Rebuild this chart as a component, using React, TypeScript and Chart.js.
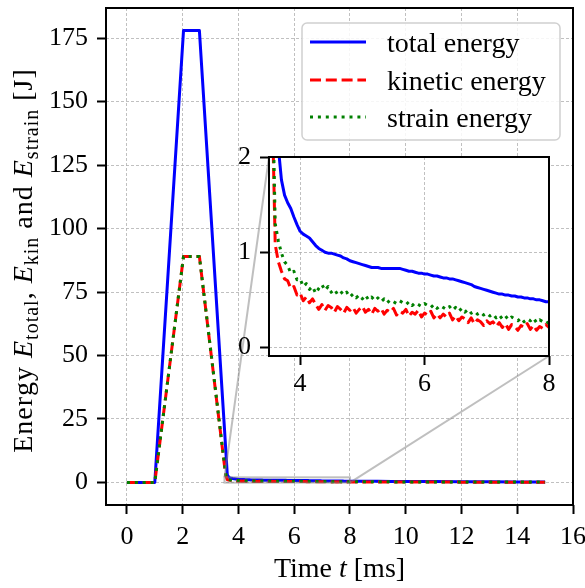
import React, { useEffect, useRef } from 'react';
import { Chart, registerables } from 'chart.js';

Chart.register(...registerables);

// ---------------- data ----------------
const TIME = [0, 1.0, 2.03, 2.6, 3.5, 3.55,
  3.6, 3.65, 3.7, 3.75, 3.8, 3.85, 3.9, 3.95, 4.0, 4.05, 4.1, 4.15, 4.2, 4.25, 4.3, 4.35, 4.4, 4.45, 4.5, 4.55,
  4.6, 4.65, 4.7, 4.75, 4.8, 4.85, 4.9, 4.95, 5.0, 5.05, 5.1, 5.15, 5.2, 5.25, 5.3, 5.35, 5.4, 5.45, 5.5, 5.55,
  5.6, 5.65, 5.7, 5.75, 5.8, 5.85, 5.9, 5.95, 6.0, 6.05, 6.1, 6.15, 6.2, 6.25, 6.3, 6.35, 6.4, 6.45, 6.5, 6.55,
  6.6, 6.65, 6.7, 6.75, 6.8, 6.85, 6.9, 6.95, 7.0, 7.05, 7.1, 7.15, 7.2, 7.25, 7.3, 7.35, 7.4, 7.45, 7.5, 7.55,
  7.6, 7.65, 7.7, 7.75, 7.8, 7.85, 7.9, 7.95, 8.0,
  8.5, 9, 9.5, 10, 11, 12, 13, 14, 15];

const TOTAL = [0, 0, 178, 178, 21, 12,
  3.0, 2.1, 1.76, 1.6, 1.52, 1.46, 1.37, 1.29, 1.22, 1.19, 1.17, 1.15, 1.11, 1.07, 1.04, 1.02, 1.0, 0.99, 0.99, 0.98,
  0.97, 0.96, 0.94, 0.93, 0.91, 0.9, 0.89, 0.88, 0.87, 0.86, 0.85, 0.84, 0.84, 0.84, 0.83, 0.83, 0.83, 0.83, 0.83, 0.83,
  0.83, 0.82, 0.81, 0.8, 0.8, 0.79, 0.78, 0.78, 0.77, 0.77, 0.76, 0.75, 0.75, 0.74, 0.73, 0.73, 0.72, 0.72, 0.71, 0.7,
  0.69, 0.68, 0.67, 0.66, 0.64, 0.63, 0.62, 0.61, 0.6, 0.59, 0.58, 0.57, 0.56, 0.56, 0.55, 0.55, 0.54, 0.54, 0.53, 0.53,
  0.52, 0.52, 0.51, 0.51, 0.5, 0.5, 0.49, 0.48, 0.48,
  0.45, 0.42, 0.39, 0.36, 0.31, 0.27, 0.24, 0.21, 0.19];

const KINETIC = [0, 0, 89, 89, 6.5, 2.6,
  1.08, 0.9, 0.8, 0.72, 0.7, 0.62, 0.64, 0.55, 0.57, 0.49, 0.53, 0.47, 0.51, 0.45, 0.4, 0.45, 0.39, 0.44, 0.42, 0.37,
  0.43, 0.4, 0.36, 0.42, 0.39, 0.42, 0.36, 0.4, 0.43, 0.37, 0.4, 0.35, 0.41, 0.38, 0.41, 0.35, 0.39, 0.37, 0.41, 0.34,
  0.38, 0.36, 0.4, 0.33, 0.37, 0.35, 0.39, 0.32, 0.36, 0.34, 0.38, 0.31, 0.35, 0.31, 0.35, 0.32, 0.36, 0.29, 0.33, 0.28,
  0.32, 0.3, 0.26, 0.31, 0.25, 0.29, 0.27, 0.23, 0.28, 0.25, 0.27, 0.22, 0.26, 0.21, 0.25, 0.19, 0.24, 0.22, 0.18, 0.23,
  0.21, 0.25, 0.19, 0.23, 0.18, 0.22, 0.2, 0.24, 0.21,
  0.19, 0.18, 0.17, 0.15, 0.13, 0.11, 0.1, 0.09, 0.08];

const STRAIN = [0, 0, 89, 89, 7, 2.9,
  1.3, 1.12, 0.99, 0.9, 0.86, 0.78, 0.8, 0.71, 0.72, 0.64, 0.67, 0.61, 0.64, 0.57, 0.62, 0.66, 0.6, 0.64, 0.58, 0.61,
  0.56, 0.59, 0.55, 0.58, 0.53, 0.56, 0.52, 0.55, 0.51, 0.55, 0.5, 0.53, 0.49, 0.52, 0.48, 0.51, 0.47, 0.5, 0.48, 0.46,
  0.49, 0.47, 0.45, 0.48, 0.44, 0.47, 0.45, 0.43, 0.46, 0.44, 0.42, 0.45, 0.41, 0.44, 0.42, 0.4, 0.43, 0.39, 0.42, 0.38,
  0.41, 0.37, 0.4, 0.36, 0.38, 0.35, 0.37, 0.34, 0.36, 0.33, 0.35, 0.31, 0.34, 0.3, 0.33, 0.29, 0.32, 0.3, 0.28, 0.31,
  0.27, 0.3, 0.28, 0.31, 0.26, 0.29, 0.27, 0.25, 0.27,
  0.25, 0.23, 0.21, 0.2, 0.17, 0.15, 0.13, 0.12, 0.11];

const SERIES_LABELS = ['total energy', 'kinetic energy', 'strain energy'];
const X_TICKS = [0, 2, 4, 6, 8, 10, 12, 14, 16];
const Y_TICKS = [0, 25, 50, 75, 100, 125, 150, 175];
const INSET_X_TICKS = [4, 6, 8];
const INSET_Y_TICKS = [0, 1, 2];
const MAIN_X_RANGE = [-0.75, 16];
const MAIN_Y_RANGE = [-8.9, 186.9];
const ZOOM_X_RANGE = [3.5, 8];
const ZOOM_Y_RANGE = [-0.09, 2];

// ---------------- style / layout ----------------
const W = 585;
const H = 588;
const FONT = '"Liberation Serif", "Times New Roman", serif';
const TICK_SIZE = 26;
const LABEL_SIZE = 28;
const MAIN_AREA = { left: 106, top: 8, right: 573, bottom: 505 };
const INSET_CANVAS = { x: 200, y: 120, w: 370, h: 290 };
const INSET_AREA = { left: 269, top: 157, right: 549, bottom: 356 };
const COLORS = ['#0000ff', '#ff0000', '#008000'];
const LW = 3;
const DASHES = [[], [11, 4.8], [3, 4.9]];
const GRID = '#b0b0b0';

type Seg = { t: string; it?: boolean; sub?: boolean };

function drawRich(ctx: CanvasRenderingContext2D, segs: Seg[], cx: number, baseY: number, size: number, spacing = 0) {
  const fontFor = (s: Seg) => `${s.it ? 'italic ' : ''}${s.sub ? Math.round(size * 0.72) : size}px ${FONT}`;
  const pieces: { ch: string; font: string; w: number; sub: boolean }[] = [];
  segs.forEach((s) => {
    const f = fontFor(s);
    ctx.font = f;
    if (spacing === 0) {
      pieces.push({ ch: s.t, font: f, w: ctx.measureText(s.t).width, sub: !!s.sub });
    } else {
      for (const ch of s.t) {
        pieces.push({ ch, font: f, w: ctx.measureText(ch).width + spacing, sub: !!s.sub });
      }
    }
  });
  const total = pieces.reduce((acc, p) => acc + p.w, 0);
  let x = cx - total / 2;
  ctx.textAlign = 'left';
  ctx.textBaseline = 'alphabetic';
  ctx.fillStyle = '#000';
  pieces.forEach((p) => {
    ctx.font = p.font;
    ctx.fillText(p.ch, x, baseY + (p.sub ? size * 0.2 : 0));
    x += p.w;
  });
}

function makeDatasets() {
  const series = [TOTAL, KINETIC, STRAIN];
  return series.map((vals, i) => ({
    label: SERIES_LABELS[i],
    data: TIME.map((t, k) => ({ x: t, y: vals[k] })),
    borderColor: COLORS[i],
    backgroundColor: COLORS[i],
    borderWidth: LW,
    borderDash: DASHES[i],
    borderCapStyle: 'butt' as const,
    borderJoinStyle: 'round' as const,
    pointRadius: 0,
    tension: 0,
    fill: false,
    order: 3 - i,
  }));
}

function axisCommon(size: number, padding: number) {
  return {
    grid: {
      color: GRID,
      lineWidth: 0.8,
      drawTicks: true,
      tickLength: 9,
      tickWidth: 2,
      tickColor: '#000',
    },
    border: { display: false, dash: [3, 2] },
    ticks: {
      font: { family: FONT, size },
      color: '#000',
      padding,
      autoSkip: false,
      maxRotation: 0,
      minRotation: 0,
      callback: (v: any) => String(v),
    },
  };
}

function fixedAxis(range: number[], ticks: number[], size: number, padding: number, fit: (s: any) => void) {
  return {
    type: 'linear',
    min: range[0],
    max: range[1],
    ...axisCommon(size, padding),
    afterBuildTicks: (s: any) => { s.ticks = ticks.map((v) => ({ value: v })); },
    afterFit: (s: any) => {
      fit(s);
      s.paddingLeft = 0; s.paddingRight = 0; s.paddingTop = 0; s.paddingBottom = 0;
    },
  };
}

export default function App() {
  const mainRef = useRef<HTMLCanvasElement>(null);
  const insetRef = useRef<HTMLCanvasElement>(null);

  useEffect(() => {
    const mainDecor = {
      id: 'mainDecor',
      afterDatasetsDraw(chart: any) {
        const ctx = chart.ctx as CanvasRenderingContext2D;
        const xs = chart.scales.x;
        const ys = chart.scales.y;
        const a = chart.chartArea;
        // indicator rectangle + connectors
        const rx0 = xs.getPixelForValue(ZOOM_X_RANGE[0]);
        const rx1 = xs.getPixelForValue(ZOOM_X_RANGE[1]);
        const ry0 = ys.getPixelForValue(ZOOM_Y_RANGE[0]);
        const ry1 = ys.getPixelForValue(ZOOM_Y_RANGE[1]);
        ctx.save();
        ctx.strokeStyle = 'rgba(128,128,128,0.5)';
        ctx.lineWidth = 2;
        ctx.strokeRect(rx0, ry1, rx1 - rx0, ry0 - ry1);
        ctx.beginPath();
        ctx.moveTo(rx0, ry1);
        ctx.lineTo(INSET_AREA.left, INSET_AREA.top);
        ctx.moveTo(rx1, ry0);
        ctx.lineTo(INSET_AREA.right, INSET_AREA.bottom);
        ctx.stroke();
        ctx.restore();

        // legend
        ctx.save();
        const bx = 302, by = 23, bw = 258, bh = 117, r = 5;
        ctx.beginPath();
        ctx.moveTo(bx + r, by);
        ctx.arcTo(bx + bw, by, bx + bw, by + bh, r);
        ctx.arcTo(bx + bw, by + bh, bx, by + bh, r);
        ctx.arcTo(bx, by + bh, bx, by, r);
        ctx.arcTo(bx, by, bx + bw, by, r);
        ctx.closePath();
        ctx.fillStyle = 'rgba(255,255,255,0.85)';
        ctx.fill();
        ctx.strokeStyle = '#d0d0d0';
        ctx.lineWidth = 1.5;
        ctx.stroke();
        const rows = [42, 80, 117];
        SERIES_LABELS.forEach((lab, i) => {
          ctx.beginPath();
          ctx.setLineDash(DASHES[i]);
          ctx.lineCap = 'butt';
          ctx.strokeStyle = COLORS[i];
          ctx.lineWidth = LW;
          ctx.moveTo(310, rows[i]);
          ctx.lineTo(366, rows[i]);
          ctx.stroke();
          ctx.setLineDash([]);
          ctx.font = `${LABEL_SIZE}px ${FONT}`;
          ctx.fillStyle = '#000';
          ctx.textAlign = 'left';
          ctx.textBaseline = 'alphabetic';
          ctx.fillText(lab, 387, rows[i] + 10);
        });
        ctx.restore();

        // frame
        ctx.save();
        ctx.strokeStyle = '#000';
        ctx.lineWidth = 2;
        ctx.strokeRect(a.left, a.top, a.right - a.left, a.bottom - a.top);
        ctx.restore();

        // axis titles
        ctx.save();
        drawRich(ctx, [{ t: 'Time ' }, { t: 't', it: true }, { t: ' [ms]' }], (a.left + a.right) / 2, 577, LABEL_SIZE);
        ctx.restore();
        ctx.save();
        ctx.translate(32, (a.top + a.bottom) / 2 + 4);
        ctx.rotate(-Math.PI / 2);
        drawRich(ctx, [
          { t: 'Energy ' }, { t: 'E', it: true }, { t: 'total', sub: true }, { t: ', ' },
          { t: 'E', it: true }, { t: 'kin', sub: true }, { t: ' and ' },
          { t: 'E', it: true }, { t: 'strain', sub: true }, { t: ' [J]' },
        ], 0, 0, LABEL_SIZE, 1);
        ctx.restore();
      },
    };

    const xMain = fixedAxis(MAIN_X_RANGE, X_TICKS, TICK_SIZE, 8, (s) => { s.height = H - MAIN_AREA.bottom; });
    const yMain = fixedAxis(MAIN_Y_RANGE, Y_TICKS, TICK_SIZE, 9, (s) => { s.width = MAIN_AREA.left; });

    const main = new Chart(mainRef.current!, {
      type: 'line',
      data: { datasets: makeDatasets() as any },
      options: {
        responsive: false,
        animation: false,
        devicePixelRatio: 1,
        layout: { padding: { left: 0, top: MAIN_AREA.top, right: W - MAIN_AREA.right, bottom: 0 } },
        plugins: { legend: { display: false }, tooltip: { enabled: false } },
        scales: { x: xMain, y: yMain },
      } as any,
      plugins: [mainDecor],
    });

    const insetDecor = {
      id: 'insetDecor',
      beforeDraw(chart: any) {
        const ctx = chart.ctx as CanvasRenderingContext2D;
        const a = chart.chartArea;
        ctx.save();
        ctx.fillStyle = '#ffffff';
        ctx.fillRect(a.left, a.top, a.right - a.left, a.bottom - a.top);
        ctx.restore();
      },
      afterDatasetsDraw(chart: any) {
        const ctx = chart.ctx as CanvasRenderingContext2D;
        const a = chart.chartArea;
        ctx.save();
        ctx.strokeStyle = '#000';
        ctx.lineWidth = 2;
        ctx.strokeRect(a.left, a.top, a.right - a.left, a.bottom - a.top);
        ctx.restore();
      },
    };

    const iLeft = INSET_AREA.left - INSET_CANVAS.x;
    const iTop = INSET_AREA.top - INSET_CANVAS.y;
    const iRight = INSET_CANVAS.w - (INSET_AREA.right - INSET_CANVAS.x);
    const iBottomH = INSET_CANVAS.h - (INSET_AREA.bottom - INSET_CANVAS.y);

    const xIn = fixedAxis(ZOOM_X_RANGE, INSET_X_TICKS, TICK_SIZE, 4, (s) => { s.height = iBottomH; });
    const yIn = fixedAxis(ZOOM_Y_RANGE, INSET_Y_TICKS, TICK_SIZE, 9, (s) => { s.width = iLeft; });

    const inset = new Chart(insetRef.current!, {
      type: 'line',
      data: { datasets: makeDatasets() as any },
      options: {
        responsive: false,
        animation: false,
        devicePixelRatio: 1,
        layout: { padding: { left: 0, top: iTop, right: iRight, bottom: 0 } },
        plugins: { legend: { display: false }, tooltip: { enabled: false } },
        scales: { x: xIn, y: yIn },
      } as any,
      plugins: [insetDecor],
    });

    return () => {
      main.destroy();
      inset.destroy();
    };
  }, []);

  return (
    <div style={{ position: 'fixed', left: 0, top: 0, width: W, height: H, background: '#fff' }}>
      <canvas
        ref={mainRef}
        width={W}
        height={H}
        style={{ position: 'absolute', left: 0, top: 0, width: W, height: H }}
      />
      <canvas
        ref={insetRef}
        width={INSET_CANVAS.w}
        height={INSET_CANVAS.h}
        style={{
          position: 'absolute',
          left: INSET_CANVAS.x,
          top: INSET_CANVAS.y,
          width: INSET_CANVAS.w,
          height: INSET_CANVAS.h,
        }}
      />
    </div>
  );
}
